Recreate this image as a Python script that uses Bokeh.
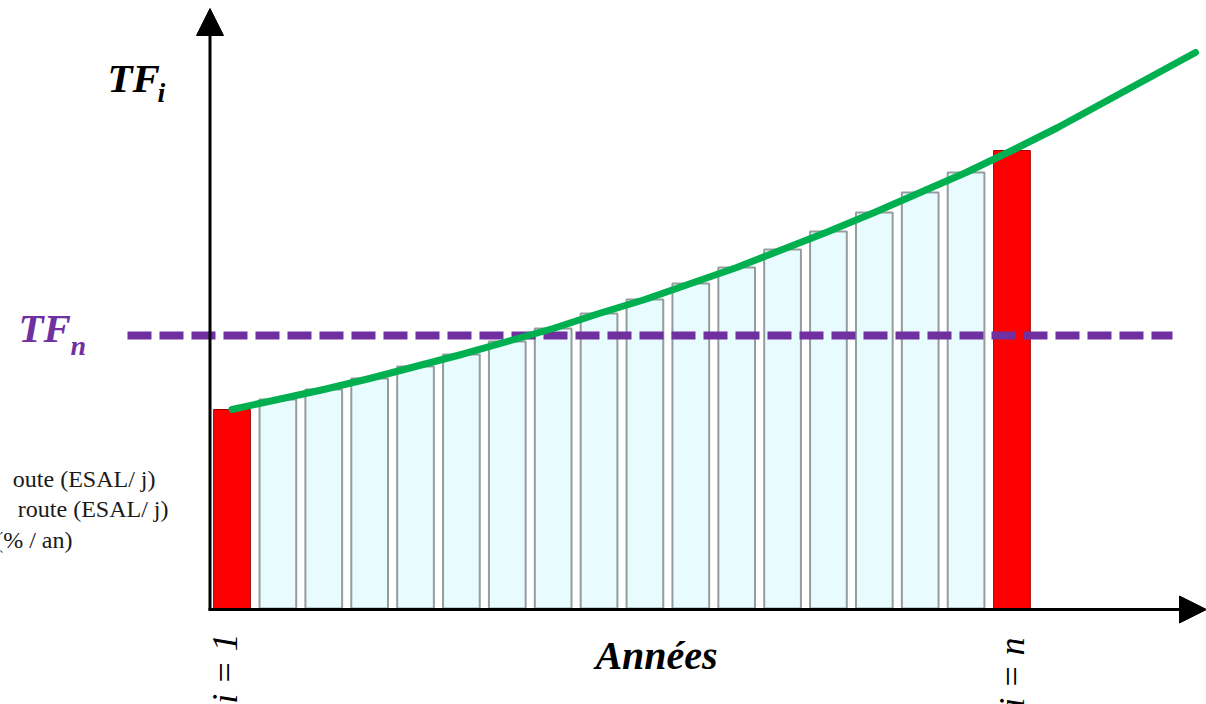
from bokeh.plotting import figure
from bokeh.models import Range1d, Label, Arrow, NormalHead, ColumnDataSource
from bokeh.embed import file_html
from bokeh.resources import INLINE
import math

# ---------------- data ----------------
years = list(range(1, 19))                       # i = 1 .. n
tf_values = [199, 209, 219, 230, 242, 254, 267, 280, 295,
             309, 325, 341, 359, 377, 396, 416, 436, 458]
curve_x = list(range(1, 23))
curve_y = [199, 209, 219, 230, 242, 254, 267, 280, 295, 309, 325,
           341, 359, 377, 396, 416, 436, 458, 481, 506, 531, 556]
tf_n = 273
legend_lines = ["oute (ESAL/ j)", "route (ESAL/ j)", "(% / an)"]

# ---------------- layout helpers (picture pixel -> data) ----------------
STEP = 45.88
def px2x(X):
    return 1 + (X - 231.5) / STEP
def px2y(Y):
    return 608 - Y

OX, OY = 0, 0
W, H = 1206, 704
p = figure(width=W, height=H, output_backend="svg", toolbar_location=None,
           x_range=Range1d(px2x(OX), px2x(OX + W)), y_range=Range1d(px2y(OY + H), px2y(OY)),
           x_axis_type=None, y_axis_type=None, min_border=0)
p.grid.visible = False
p.outline_line_color = None
p.background_fill_color = "white"
p.border_fill_color = "white"

fills = ["#FF0000" if (i == years[0] or i == years[-1]) else "#E8FBFE" for i in years]
lines = ["#A00000" if (i == years[0] or i == years[-1]) else "#939D9D" for i in years]
lws = [1 if (i == years[0] or i == years[-1]) else 2 for i in years]
src = ColumnDataSource(dict(x=years, top=tf_values, fill=fills, line=lines, lw=lws))
p.vbar(x="x", top="top", bottom=0, width=0.8, source=src,
       fill_color="fill", line_color="line", line_width="lw")

# dashed TF_n line
p.line(x=[px2x(127), px2x(1172)], y=[tf_n, tf_n], line_color="#7030A0",
       line_width=8, line_dash="24 8")

# green growth curve
p.line(x=curve_x, y=curve_y, line_color="#00B050", line_width=7, line_cap="round",
       line_join="round")

# axes with arrows
p.add_layout(Arrow(end=NormalHead(size=27, fill_color="black", line_color="black"),
                   x_start=px2x(209.5), y_start=px2y(610), x_end=px2x(209.5), y_end=px2y(8),
                   line_width=3, line_color="black"))
p.add_layout(Arrow(end=NormalHead(size=27, fill_color="black", line_color="black"),
                   x_start=px2x(208), y_start=px2y(609), x_end=px2x(1206), y_end=px2y(609),
                   line_width=3, line_color="black"))

SERIF = "Liberation Serif"
def lab(X, Y, text, size, color="black", style="bold italic", align="left",
        baseline="alphabetic", angle=0.0, dy=None):
    if dy is None:
        dy = -0.37 * size if angle == 0.0 else 0.0
    p.add_layout(Label(x=px2x(X), y=px2y(Y + dy), text=text, text_font=SERIF,
                       text_font_size=f"{size}px", text_font_style=style,
                       text_color=color, text_align=align, text_baseline=baseline,
                       angle=angle))

# TF_i
lab(107, 93, "TF", 41)
lab(157, 102, "i", 28)
# TF_n
lab(18, 343, "TF", 41, color="#7030A0")
lab(70, 355, "n", 28, color="#7030A0")
# Années
lab(656, 670, "Années", 40, align="center")
# i = 1, i = n rotated
lab(224, 633, "i = 1", 36, style="italic", align="right", angle=math.pi / 2)
lab(1011, 637, "i = n", 36, style="italic", align="right", angle=math.pi / 2)

# partial legend text at left
for Y, X, t in zip([487, 517, 548], [155, 168, 72], legend_lines):
    lab(X, Y, t, 24, color="#1a1a1a", style="normal", align="right")

open("out.html", "w").write(file_html(p, INLINE))
